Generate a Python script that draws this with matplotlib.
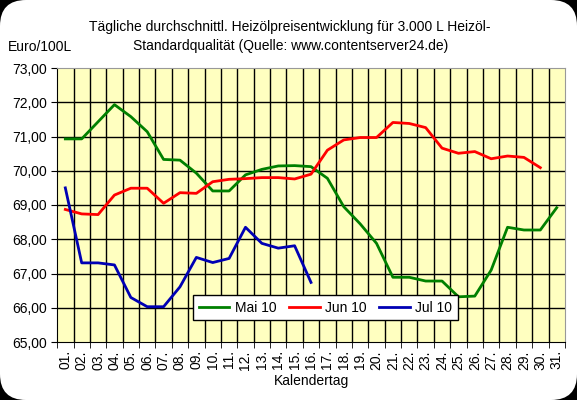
import numpy as np
import matplotlib
matplotlib.use("Agg")
from matplotlib import pyplot as plt
from matplotlib.patches import FancyBboxPatch

plt.rcParams['font.family'] = ['Liberation Sans', 'DejaVu Sans']

# Kalendertage
days = [f"{d:02d}." for d in range(1, 32)]

# Heizölpreise Euro/100L
mai_10 = [70.93, 70.93, 71.43, 71.93, 71.58, 71.14, 70.33, 70.31, 69.93, 69.41,
          69.41, 69.88, 70.04, 70.14, 70.15, 70.12, 69.78, 68.95, 68.45, 67.88,
          66.89, 66.89, 66.78, 66.78, 66.32, 66.34, 67.10, 68.35, 68.27, 68.27,
          68.92]
jun_10 = [68.87, 68.74, 68.72, 69.29, 69.49, 69.49, 69.05, 69.36, 69.34, 69.68,
          69.75, 69.77, 69.80, 69.80, 69.76, 69.90, 70.60, 70.90, 70.97, 70.97,
          71.41, 71.38, 71.26, 70.66, 70.51, 70.56, 70.35, 70.43, 70.39, 70.09]
jul_10 = [69.50, 67.31, 67.31, 67.25, 66.30, 66.03, 66.03, 66.61, 67.47, 67.32,
          67.44, 68.35, 67.88, 67.74, 67.81, 66.74]

fig = plt.figure(figsize=(5.77, 4.0), dpi=100)
fig.patch.set_facecolor('black')

# white rounded background
bg = FancyBboxPatch((0.0, 0.0), 1.0, 1.0, boxstyle="round,pad=0,rounding_size=0.045",
                    transform=fig.transFigure, facecolor='white', edgecolor='none',
                    mutation_aspect=577 / 400, zorder=-10)
fig.patches.append(bg)

ax = fig.add_axes([0.099, 0.145, 0.88, 0.685])
ax.set_facecolor('#FFFFC0')

x_mai = np.arange(1, len(mai_10) + 1)
x_jun = np.arange(1, len(jun_10) + 1)
x_jul = np.arange(1, len(jul_10) + 1)
ax.plot(x_mai, mai_10, color='#008000', lw=2, label='Mai 10', zorder=3)
ax.plot(x_jun, jun_10, color='#FF0000', lw=2, label='Jun 10', zorder=3)
ax.plot(x_jul, jul_10, color='#0000B4', lw=2, label='Jul 10', zorder=3)

ax.set_xlim(0.5, 31.5)
ax.set_ylim(65, 73)

# grid: vertical at category boundaries, horizontal at each Euro
for b in np.arange(1.5, 31.5, 1):
    ax.axvline(b, color='black', lw=1, zorder=1)
for v in range(66, 73):
    ax.axhline(v, color='black', lw=1, zorder=1)

ax.set_yticks(range(65, 74))
ax.set_yticklabels([f"{v},00" for v in range(65, 74)], fontsize=10)
ax.set_xticks(x_mai)
ax.set_xticklabels(days, rotation=90, fontsize=10)
ax.set_xticks(np.arange(0.5, 32, 1), minor=True)
ax.tick_params(axis='x', which='major', length=0, pad=6)
ax.tick_params(axis='x', which='minor', length=4, color='black')
ax.tick_params(axis='y', length=4, color='black')

for side in ['top', 'right']:
    ax.spines[side].set_color('#999999')
for side in ['left', 'bottom']:
    ax.spines[side].set_color('black')

ax.set_xlabel("Kalendertag", fontsize=10, labelpad=3)

fig.text(0.503, 0.909, "Tägliche durchschnittl. Heizölpreisentwicklung für 3.000 L Heizöl-\n"
         "Standardqualität (Quelle: www.contentserver24.de)",
         ha='center', va='center', fontsize=10, linespacing=1.5)
fig.text(0.014, 0.882, "Euro/100L", ha='left', va='center', fontsize=10)

leg = ax.legend(loc='lower left', bbox_to_anchor=(0.268, 0.08), ncol=3, fontsize=10,
                frameon=True, fancybox=False, edgecolor='black', framealpha=1,
                handlelength=2.2, handletextpad=0.4, columnspacing=0.9,
                borderpad=0.4, borderaxespad=0)
leg.get_frame().set_linewidth(1)

fig.savefig("out.png", dpi=100, facecolor=fig.get_facecolor())
